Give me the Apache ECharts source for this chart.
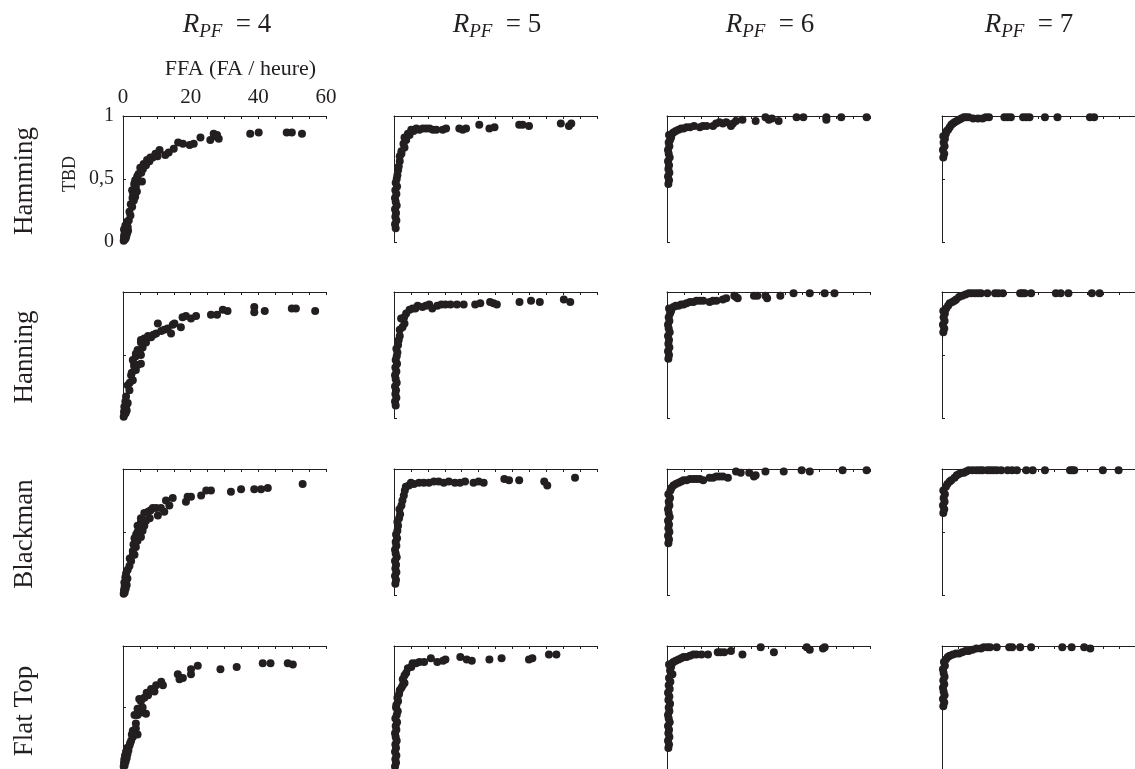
<!DOCTYPE html>
<html><head><meta charset="utf-8">
<script src="https://cdn.jsdelivr.net/npm/echarts@6/dist/echarts.min.js"></script>
<style>html,body{margin:0;padding:0;background:#fff}#c{width:1135px;height:769px}</style>
</head><body><div id="c"></div>
<script>
// ---------- categories / tick labels ----------
const windows = ['Hamming', 'Hanning', 'Blackman', 'Flat Top'];
const rpfValues = [4, 5, 6, 7];
const xTickLabels = [0, 20, 40, 60];
const yTickLabels = [0, 0.5, 1];
const xAxisName = 'FFA (FA / heure)';
const yAxisName = 'TBD';

// ---------- data: [FFA, TBD] ----------
const hamming4 = [[0.2,0.01],[0.5,0.02],[0.3,0.04],[0.8,0.03],[0.4,0.06],[1.0,0.05],[0.6,0.08],[1.2,0.07],[0.3,0.10],[0.9,0.11],[1.5,0.09],[0.7,0.13],[1.4,0.12],
[1.7,0.17],[1.2,0.16],[2.2,0.21],[1.9,0.24],[2.7,0.28],[2.3,0.30],[3.2,0.33],[2.8,0.35],[3.6,0.36],[3.0,0.38],[2.7,0.41],[4.1,0.40],[3.8,0.44],[3.3,0.46],[3.6,0.49],[4.6,0.48],[5.6,0.48],[4.2,0.52],[4.6,0.54],[5.4,0.55],[5.1,0.59],[5.9,0.58],[6.1,0.62],[6.8,0.61],[7.1,0.65],[7.8,0.64],[8.1,0.67],[8.8,0.67],[9.6,0.70],[10.2,0.68],[10.8,0.73],[12.5,0.69],[13.5,0.71],[15,0.74],[16.3,0.79],[17.7,0.78],[19.7,0.77],[20.9,0.78],[22.9,0.83],[25.8,0.81],[26.8,0.86],[27.8,0.85],[28.3,0.82],[27.3,0.84],[37.6,0.86],[40.1,0.87],[48.4,0.87],[49.9,0.87],[52.9,0.86]];
const hanning4 = [[0.2,0.01],[0.5,0.03],[0.3,0.05],[0.8,0.04],[0.6,0.07],[1.1,0.06],[0.4,0.09],[1.0,0.10],[1.4,0.12],[0.7,0.13],
[0.9,0.17],[1.9,0.22],[1.4,0.26],[2.0,0.28],[2.9,0.30],[2.4,0.34],[2.6,0.36],[3.8,0.38],[3.3,0.41],[3.3,0.43],[4.3,0.42],[2.9,0.46],[5.3,0.43],[3.8,0.49],[3.8,0.51],[5.3,0.50],[4.3,0.54],[4.9,0.53],[5.8,0.56],[5.3,0.60],[5.3,0.62],[6.8,0.60],[6.3,0.63],[7.4,0.65],[8.3,0.64],[9.0,0.66],[9.8,0.67],[10.3,0.75],[11.3,0.69],[12.2,0.70],[13.2,0.71],[14.7,0.74],[14.2,0.67],[15.2,0.75],[17.1,0.72],[17.6,0.80],[18.6,0.81],[20.1,0.79],[21.6,0.81],[26,0.82],[27.8,0.82],[29.5,0.86],[30.9,0.85],[38.8,0.88],[38.8,0.84],[41.9,0.85],[49.9,0.87],[51.1,0.87],[56.8,0.85]];
const blackman4 = [[0.2,0.01],[0.5,0.02],[0.3,0.04],[0.8,0.05],[0.5,0.07],[1.1,0.08],[0.4,0.10],[0.9,0.11],[1.3,0.13],[0.7,0.14],
[0.9,0.17],[1.4,0.20],[1.9,0.23],[2.4,0.27],[2.0,0.29],[2.9,0.32],[3.4,0.32],[2.9,0.35],[3.8,0.38],[3.1,0.40],[3.4,0.45],[4.3,0.43],[5.3,0.46],[3.9,0.48],[4.3,0.50],[5.8,0.51],[4.3,0.55],[5.0,0.54],[6.3,0.55],[5.3,0.58],[5.3,0.61],[6.8,0.59],[7.9,0.61],[6.3,0.65],[7.4,0.66],[8.1,0.67],[8.8,0.69],[10.3,0.63],[9.8,0.69],[11.2,0.69],[12.2,0.66],[12.7,0.75],[13.7,0.71],[14.7,0.77],[18.6,0.74],[19.1,0.78],[20.1,0.78],[23.1,0.79],[24.6,0.83],[26.0,0.83],[31.9,0.82],[34.9,0.84],[38.8,0.84],[40.8,0.84],[42.8,0.85],[53.1,0.88]];
const flattop4 = [[0.2,0.02],[0.5,0.03],[0.3,0.05],[0.8,0.06],[0.4,0.08],[1.1,0.09],[0.6,0.11],[1.3,0.12],[0.9,0.14],[1.6,0.15],[1.2,0.17],[1.9,0.19],
[2.1,0.21],[2.4,0.23],[2.9,0.26],[2.6,0.28],[3.4,0.29],[4.3,0.28],[2.9,0.31],[3.8,0.33],[3.8,0.37],[4.3,0.44],[3.4,0.44],[5.3,0.46],[6.8,0.45],[4.3,0.49],[5.8,0.50],[4.8,0.57],[5.3,0.55],[6.3,0.58],[7.4,0.60],[7.0,0.62],[8.3,0.65],[9.3,0.63],[9.8,0.68],[11.3,0.71],[11.8,0.68],[16.2,0.77],[16.7,0.73],[17.7,0.74],[20.1,0.77],[20.1,0.81],[22.1,0.84],[28.8,0.81],[33.6,0.83],[41.3,0.86],[43.6,0.86],[48.7,0.86],[50.2,0.85]];

const hamming5 = [[0.5,0.11],[0.3,0.14],[0.7,0.17],[0.4,0.20],[0.6,0.23],[0.3,0.26],[0.8,0.29],[0.5,0.32],[0.3,0.35],[0.7,0.38],[0.4,0.41],[0.9,0.44],[0.5,0.47],[0.8,0.50],[1.0,0.53],[1.2,0.57],[1.4,0.60],[1.7,0.64],[1.7,0.68],[2.2,0.70],[2.2,0.72],[3.1,0.75],[2.8,0.78],[3.6,0.81],[3.1,0.83],[4.1,0.86],[4.6,0.85],[5.1,0.89],[5.8,0.88],[6.6,0.90],[7.5,0.89],[8.5,0.90],[9.5,0.90],[10.5,0.90],[11.5,0.89],[12.5,0.89],[14.4,0.89],[15.4,0.90],[19.3,0.90],[20.3,0.89],[21.3,0.90],[25.2,0.93],[28.2,0.90],[29.7,0.91],[37.0,0.93],[38.0,0.93],[39.9,0.92],[49.3,0.94],[51.7,0.92],[52.4,0.94]];
const hanning5 = [[0.5,0.10],[0.3,0.13],[0.7,0.16],[0.4,0.19],[0.6,0.22],[0.3,0.25],[0.8,0.28],[0.5,0.31],[0.3,0.34],[0.7,0.37],[0.4,0.40],[0.9,0.43],[0.5,0.46],[0.8,0.49],[1.0,0.52],[0.7,0.55],[1.2,0.58],[1.4,0.62],[1.7,0.65],[1.7,0.70],[2.5,0.72],[3.1,0.75],[2.1,0.79],[3.0,0.80],[3.6,0.83],[4.6,0.86],[5.5,0.87],[6.3,0.87],[7.0,0.89],[8.4,0.88],[9.4,0.89],[10.4,0.90],[11.3,0.87],[12.8,0.89],[14.0,0.90],[15.2,0.90],[16.7,0.90],[18.6,0.90],[20.6,0.90],[24.0,0.90],[25.5,0.91],[28.4,0.92],[29.4,0.91],[30.4,0.90],[37.1,0.92],[40.5,0.93],[43.1,0.92],[50.2,0.94],[52.1,0.92]];
const blackman5 = [[0.4,0.09],[0.6,0.12],[0.3,0.15],[0.7,0.18],[0.4,0.21],[0.6,0.24],[0.3,0.27],[0.8,0.30],[0.5,0.33],[0.3,0.36],[0.7,0.39],[0.5,0.42],[0.9,0.45],[0.6,0.48],[1.0,0.51],[1.2,0.55],[1.0,0.58],[1.5,0.61],[1.8,0.64],[1.6,0.68],[2.2,0.71],[2.5,0.75],[2.9,0.79],[3.2,0.83],[3.5,0.86],[4.4,0.87],[5.0,0.89],[5.9,0.88],[7.4,0.89],[8.8,0.89],[10.3,0.89],[11.8,0.90],[13.2,0.90],[14.7,0.89],[16.2,0.90],[18.0,0.89],[19.5,0.89],[21.0,0.90],[23.5,0.89],[25.0,0.90],[26.5,0.89],[32.6,0.92],[34.0,0.91],[37,0.91],[44.4,0.90],[45.3,0.87],[53.5,0.93]];
const flattop5 = [[0.3,0.02],[0.6,0.05],[0.4,0.08],[0.7,0.11],[0.3,0.14],[0.6,0.17],[0.4,0.20],[0.8,0.23],[0.5,0.26],[0.3,0.29],[0.7,0.32],[0.5,0.35],[0.9,0.38],[0.4,0.41],[0.8,0.44],[1.1,0.47],[0.6,0.50],[0.7,0.52],[1.2,0.55],[1.0,0.58],[1.5,0.61],[1.7,0.64],[2.2,0.66],[2.6,0.68],[3.1,0.70],[2.6,0.73],[3.1,0.76],[3.6,0.78],[4.1,0.82],[5.1,0.83],[5.5,0.86],[6.5,0.86],[7.5,0.87],[8.9,0.87],[10.9,0.90],[12.8,0.87],[15.2,0.89],[14.5,0.88],[19.6,0.91],[21.5,0.89],[23,0.88],[28.2,0.89],[31.8,0.90],[39.9,0.89],[40.9,0.90],[45.8,0.93],[48,0.93]];

const hamming6 = [[0.4,0.46],[0.6,0.49],[0.3,0.52],[0.7,0.55],[0.4,0.58],[0.6,0.61],[0.3,0.64],[0.8,0.67],[0.5,0.70],[0.3,0.73],[0.7,0.76],[0.5,0.79],[0.9,0.81],[1.2,0.83],[0.6,0.85],[1.5,0.86],[1.9,0.87],[2.6,0.88],[3.4,0.89],[4.2,0.90],[4.9,0.90],[5.8,0.91],[6.8,0.91],[8.0,0.92],[9.7,0.91],[10.6,0.92],[11.7,0.92],[13.6,0.92],[14.5,0.94],[15.5,0.95],[16.5,0.94],[17.5,0.95],[18.9,0.92],[19.5,0.94],[20.4,0.96],[22.3,0.97],[26.2,0.96],[29.1,0.99],[30.1,0.97],[31.0,0.98],[33.0,0.96],[38.3,0.99],[40.3,0.99],[47.1,0.99],[47.1,0.97],[51.5,0.99],[59,0.99]];
const hanning6 = [[0.4,0.47],[0.6,0.50],[0.3,0.53],[0.7,0.56],[0.4,0.59],[0.6,0.62],[0.3,0.65],[0.8,0.68],[0.5,0.71],[0.3,0.74],[0.7,0.77],[0.5,0.80],[0.9,0.83],[1.2,0.85],[0.6,0.87],[1.9,0.88],[2.6,0.89],[3.4,0.89],[4.2,0.90],[4.9,0.90],[5.8,0.91],[6.8,0.92],[7.8,0.92],[8.7,0.93],[9.7,0.93],[10.7,0.93],[12.6,0.92],[13.6,0.93],[14.6,0.93],[16.5,0.94],[17.5,0.95],[19.9,0.97],[20.4,0.96],[20.9,0.95],[25.7,0.97],[26.7,0.97],[29.1,0.97],[29.6,0.95],[33.5,0.97],[37.4,0.99],[42.2,0.99],[46.6,0.99],[49.5,0.99]];
const blackman6 = [[0.4,0.41],[0.6,0.44],[0.3,0.47],[0.7,0.50],[0.4,0.53],[0.6,0.56],[0.3,0.59],[0.8,0.62],[0.5,0.65],[0.3,0.68],[0.7,0.71],[0.5,0.74],[0.9,0.77],[0.4,0.80],[1.0,0.83],[1.3,0.85],[1.9,0.87],[2.6,0.88],[3.4,0.89],[4.2,0.90],[4.9,0.91],[5.8,0.91],[6.8,0.92],[7.8,0.92],[8.7,0.92],[9.7,0.92],[10.7,0.91],[12.6,0.93],[13.6,0.93],[14.6,0.94],[15.5,0.94],[16.5,0.94],[18.0,0.93],[20.4,0.98],[21.8,0.97],[24.3,0.97],[25.7,0.94],[26.2,0.95],[29.1,0.98],[34.5,0.98],[39.8,0.99],[42.2,0.98],[51.9,0.99],[59,0.99]];
const flattop6 = [[0.4,0.17],[0.6,0.20],[0.3,0.23],[0.7,0.26],[0.4,0.29],[0.6,0.32],[0.3,0.35],[0.8,0.38],[0.5,0.41],[0.3,0.44],[0.7,0.47],[0.5,0.50],[0.9,0.53],[0.4,0.56],[0.7,0.59],[0.3,0.62],[0.8,0.65],[0.5,0.68],[1.0,0.71],[0.6,0.74],[1.6,0.77],[0.9,0.80],[1.2,0.83],[0.6,0.85],[1.5,0.86],[1.9,0.87],[2.6,0.88],[3.4,0.89],[4.2,0.90],[4.9,0.91],[5.8,0.91],[6.8,0.92],[7.8,0.93],[8.7,0.93],[10.2,0.93],[12.1,0.93],[15.0,0.95],[15.8,0.95],[16.9,0.95],[18.9,0.96],[22.3,0.93],[27.7,0.99],[31.6,0.95],[41.3,0.99],[42.2,0.97],[46.1,0.98],[46.6,0.99]];

const hamming7 = [[0.4,0.67],[0.7,0.70],[0.3,0.73],[0.8,0.76],[0.5,0.79],[0.9,0.82],[0.4,0.84],[1.2,0.86],[1.5,0.88],[1.9,0.89],[2.4,0.91],[2.9,0.93],[3.4,0.94],[3.9,0.95],[4.6,0.96],[5.3,0.97],[6.0,0.98],[6.8,0.99],[7.5,0.99],[8.3,0.99],[9.7,0.98],[11.2,0.98],[12.6,0.98],[13.6,0.99],[14.6,0.99],[19.4,0.99],[20.4,0.99],[21.4,0.99],[25.2,0.99],[26.2,0.99],[27.2,0.99],[32,0.99],[35.9,0.99],[46,0.99],[47.3,0.99]];
const hanning7 = [[0.4,0.68],[0.7,0.71],[0.3,0.74],[0.8,0.77],[0.5,0.80],[0.9,0.83],[0.4,0.85],[1.3,0.87],[1.9,0.89],[2.4,0.91],[3.2,0.92],[3.9,0.93],[4.4,0.94],[5.3,0.96],[6.3,0.97],[7.3,0.98],[8.3,0.99],[9.2,0.99],[10.2,0.99],[11.2,0.99],[12.1,0.99],[14.1,0.99],[16.5,0.99],[17.5,0.99],[18.9,0.99],[24.3,0.99],[25.0,0.99],[25.7,0.99],[27.7,0.99],[35.4,0.99],[36.9,0.99],[39.3,0.99],[46.6,0.99],[49.0,0.99]];
const blackman7 = [[0.4,0.65],[0.7,0.68],[0.3,0.71],[0.8,0.74],[0.5,0.77],[0.9,0.80],[0.4,0.83],[1.2,0.86],[1.7,0.88],[2.4,0.90],[2.9,0.91],[3.9,0.93],[4.6,0.95],[5.3,0.96],[6.1,0.97],[6.8,0.97],[7.5,0.98],[8.3,0.99],[9.5,0.99],[10.7,0.99],[11.7,0.99],[12.6,0.99],[14.1,0.99],[15.0,0.99],[16.0,0.99],[17.0,0.99],[18.4,0.99],[20.4,0.99],[21.8,0.99],[23.3,0.99],[26.2,0.99],[28.2,0.99],[32,0.99],[39.8,0.99],[40.5,0.99],[41.1,0.99],[50,0.99],[54.9,0.99]];
const flattop7 = [[0.4,0.51],[0.7,0.54],[0.3,0.57],[0.8,0.60],[0.5,0.63],[0.3,0.66],[0.7,0.69],[0.4,0.72],[0.8,0.75],[0.5,0.78],[0.3,0.81],[0.9,0.84],[0.6,0.87],[1.2,0.89],[1.8,0.91],[2.4,0.92],[3.4,0.93],[4.4,0.94],[5.3,0.94],[6.3,0.95],[7.3,0.96],[8.3,0.96],[9.5,0.97],[10.7,0.98],[12.1,0.98],[13.0,0.99],[14.1,0.99],[14.9,0.99],[17.0,0.99],[20.9,0.99],[21.8,0.99],[24.3,0.99],[27.7,0.99],[37.4,0.99],[40.3,0.99],[44.2,0.99],[46.1,0.98]];

const panelData = [
  [hamming4, hamming5, hamming6, hamming7],
  [hanning4, hanning5, hanning6, hanning7],
  [blackman4, blackman5, blackman6, blackman7],
  [flattop4, flattop5, flattop6, flattop7]
];

// ---------- layout (pixels) ----------
const GRID_LEFT = [123, 394, 667, 942];
const GRID_TOP = [116, 292, 469, 646];
const GRID_W = 203, GRID_H = 126;
const TITLE_X = [227, 497, 770, 1029];
const TITLE_Y = 25;
const ROW_LABEL_X = 25;
const ROW_LABEL_DY = 2;
const INK = '#231f20';
const SERIF = '"Liberation Serif", "DejaVu Serif", serif';

const grid = [], xAxis = [], yAxis = [], series = [];
let idx = 0;
for (let r = 0; r < 4; r++) {
  for (let c = 0; c < 4; c++) {
    const first = (idx === 0);
    grid.push({ left: GRID_LEFT[c], top: GRID_TOP[r], width: GRID_W, height: GRID_H, containLabel: false });
    xAxis.push({
      gridIndex: idx, type: 'value', position: 'top', min: 0, max: 60, interval: 5,
      axisLine: { show: true, onZero: false, lineStyle: { color: INK, width: 1 } },
      axisTick: { show: true, inside: true, length: 3, lineStyle: { color: INK, width: 1 } },
      axisLabel: { show: first, margin: 8, color: INK, fontFamily: SERIF, fontSize: 21,
        formatter: v => (xTickLabels.indexOf(v) >= 0 ? String(v) : '') },
      splitLine: { show: false },
      name: first ? xAxisName : '', nameLocation: 'middle', nameGap: 36,
      nameTextStyle: { color: INK, fontFamily: SERIF, fontSize: 22, padding: [0, 0, 0, 32] }
    });
    yAxis.push({
      gridIndex: idx, type: 'value', min: 0, max: 1, interval: 0.5,
      axisLine: { show: true, onZero: false, lineStyle: { color: INK, width: 1 } },
      axisTick: { show: true, inside: true, length: 3, lineStyle: { color: INK, width: 1 } },
      axisLabel: { show: first, margin: 9, color: INK, fontFamily: SERIF, fontSize: 20,
        formatter: v => (yTickLabels.indexOf(v) >= 0 ? String(v).replace('.', ',') : '') },
      splitLine: { show: false },
      name: first ? yAxisName : '', nameLocation: 'middle', nameGap: 44, nameRotate: 90,
      nameTextStyle: { color: INK, fontFamily: SERIF, fontSize: 18, padding: [0, 0, 0, 10] }
    });
    series.push({
      type: 'scatter', xAxisIndex: idx, yAxisIndex: idx, data: panelData[r][c],
      symbol: 'circle', symbolSize: 8, clip: false, silent: true,
      itemStyle: { color: INK, opacity: 1 }
    });
    idx++;
  }
}

const graphic = [];
rpfValues.forEach((v, c) => {
  graphic.push({
    type: 'text', x: TITLE_X[c], y: TITLE_Y, silent: true,
    style: {
      text: '{i|R}{s|PF}{n|\u2002= ' + v + '}',
      align: 'center', verticalAlign: 'middle', fill: INK,
      rich: {
        i: { fontStyle: 'italic', fontSize: 27, fontFamily: SERIF, fill: INK, lineHeight: 32, verticalAlign: 'middle' },
        s: { fontStyle: 'italic', fontSize: 19, fontFamily: SERIF, fill: INK, lineHeight: 19, verticalAlign: 'bottom' },
        n: { fontSize: 27, fontFamily: SERIF, fill: INK, lineHeight: 32, verticalAlign: 'middle' }
      }
    }
  });
});
windows.forEach((w, r) => {
  graphic.push({
    type: 'text', x: ROW_LABEL_X, y: GRID_TOP[r] + GRID_H / 2 + ROW_LABEL_DY, rotation: Math.PI / 2, silent: true,
    style: { text: w, align: 'center', verticalAlign: 'middle', fill: INK, font: '27px ' + SERIF }
  });
});

const chart = echarts.init(document.getElementById('c'), null, { renderer: 'canvas' });
chart.setOption({ animation: false, backgroundColor: '#fff', grid, xAxis, yAxis, series, graphic });
</script>
</body></html>
